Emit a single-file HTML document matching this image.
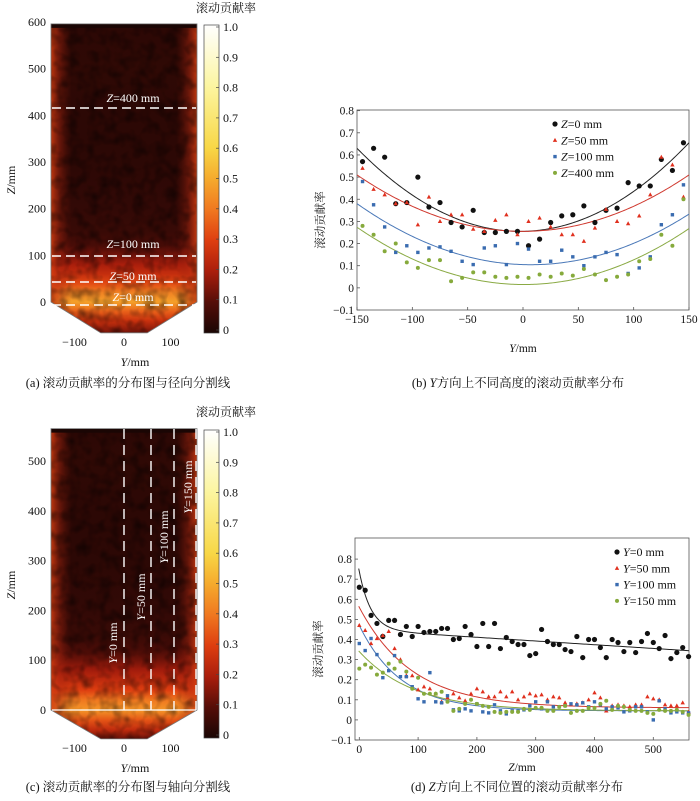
<!DOCTYPE html>
<html><head><meta charset="utf-8"><style>
html,body{margin:0;padding:0;background:#fff;}
svg text{font-family:"Liberation Serif","Noto Serif CJK SC",serif;fill:#111;}
</style></head><body>
<svg id="fig" width="700" height="796" viewBox="0 0 700 796" xmlns="http://www.w3.org/2000/svg">
<defs>
<filter id="noise" x="0" y="0" width="100%" height="100%">
<feTurbulence type="fractalNoise" baseFrequency="0.09" numOctaves="2" seed="3"/>
<feColorMatrix type="matrix" values="0 0 0 0 0  0 0 0 0 0  0 0 0 0 0  2.2 0 0 0 -0.9"/>
</filter>
<linearGradient id="edgeGrad" x1="0" x2="1" y1="0" y2="0">
<stop offset="0" stop-color="#d84010" stop-opacity="0.85"/>
<stop offset="0.06" stop-color="#b02810" stop-opacity="0.45"/>
<stop offset="0.14" stop-color="#801808" stop-opacity="0"/>
<stop offset="0.86" stop-color="#801808" stop-opacity="0"/>
<stop offset="0.94" stop-color="#b02810" stop-opacity="0.45"/>
<stop offset="1" stop-color="#d84010" stop-opacity="0.85"/>
</linearGradient>
</defs>
<g id="layer"></g>
</svg>
<script>
// ---------- data ----------
const cbTicks = [0,0.1,0.2,0.3,0.4,0.5,0.6,0.7,0.8,0.9,1.0];
const heatZA = [596,500,400,300,200,150,120,100,80,60,40,20,0,-20,-40,-66];
const heatVA = [0.03,0.035,0.03,0.03,0.04,0.05,0.08,0.14,0.2,0.25,0.32,0.42,0.48,0.36,0.26,0.14];
const heatZC = [565,500,400,300,200,150,120,100,80,60,40,20,0,-20,-40,-58];
const heatVC = [0.03,0.035,0.03,0.03,0.04,0.05,0.08,0.13,0.19,0.24,0.3,0.4,0.46,0.34,0.24,0.12];

const bY = [-145,-135,-125,-115,-105,-95,-85,-75,-65,-55,-45,-35,-25,-15,-5,5,15,25,35,45,55,65,75,85,95,105,115,125,135,145];
const bZ0 = [0.57,0.63,0.59,0.38,0.385,0.50,0.365,0.385,0.295,0.275,0.35,0.25,0.25,0.255,0.255,0.19,0.22,0.295,0.325,0.33,0.37,0.295,0.35,0.36,0.475,0.46,0.46,0.58,0.53,0.655];
const bZ50 = [0.54,0.445,0.42,0.38,0.385,0.285,0.41,0.30,0.33,0.33,0.265,0.255,0.305,0.33,0.24,0.30,0.315,0.275,0.24,0.24,0.21,0.27,0.355,0.30,0.29,0.325,0.42,0.59,0.555,0.41];
const bZ100 = [0.48,0.375,0.275,0.16,0.19,0.16,0.18,0.185,0.165,0.12,0.105,0.18,0.19,0.105,0.20,0.175,0.12,0.12,0.17,0.14,0.10,0.14,0.16,0.15,0.065,0.09,0.14,0.285,0.33,0.465];
const bZ400 = [0.28,0.24,0.165,0.20,0.115,0.09,0.125,0.125,0.03,0.045,0.07,0.07,0.05,0.045,0.05,0.045,0.06,0.05,0.065,0.055,0.085,0.06,0.035,0.05,0.06,0.12,0.13,0.24,0.19,0.40];
const bFit0 = [1.722e-5, 0.0000833, 0.255];
const bFit50 = [1.133e-5, 0, 0.255];
const bFit100 = [1.118e-5, -0.000157, 0.105];
const bFit400 = [1.136e-5, -0.00002, 0.015];
const bXTicks = [-150,-100,-50,0,50,100,150];
const bYTicks = [-0.1,0,0.1,0.2,0.3,0.4,0.5,0.6,0.7,0.8];

const dZ = [0,10,20,30,40,50,60,70,80,90,100,110,120,130,140,150,160,170,180,190,200,210,220,230,240,250,260,270,280,290,300,310,320,330,340,350,360,370,380,390,400,410,420,430,440,450,460,470,480,490,500,510,520,530,540,550,560];
const dY0 = [0.66,0.645,0.52,0.48,0.415,0.495,0.495,0.425,0.465,0.415,0.465,0.435,0.44,0.44,0.455,0.455,0.40,0.405,0.465,0.425,0.365,0.48,0.365,0.48,0.355,0.41,0.39,0.375,0.375,0.32,0.33,0.45,0.39,0.375,0.375,0.35,0.34,0.415,0.31,0.40,0.40,0.36,0.31,0.40,0.385,0.34,0.385,0.335,0.39,0.43,0.385,0.355,0.42,0.305,0.335,0.36,0.315];
const dY50 = [0.47,0.445,0.38,0.405,0.42,0.44,0.355,0.30,0.22,0.22,0.15,0.165,0.155,0.13,0.09,0.11,0.13,0.11,0.095,0.13,0.155,0.14,0.115,0.115,0.14,0.115,0.14,0.10,0.115,0.13,0.12,0.125,0.10,0.115,0.11,0.085,0.075,0.08,0.085,0.10,0.135,0.11,0.045,0.07,0.075,0.07,0.065,0.075,0.075,0.115,0.105,0.10,0.075,0.07,0.07,0.085,0.04];
const dY100 = [0.38,0.345,0.405,0.325,0.21,0.245,0.32,0.215,0.215,0.165,0.105,0.09,0.235,0.09,0.085,0.12,0.05,0.045,0.055,0.045,0.08,0.04,0.035,0.075,0.045,0.03,0.045,0.045,0.05,0.07,0.09,0.055,0.09,0.065,0.065,0.07,0.08,0.075,0.085,0.065,0.09,0.075,0.055,0.065,0.06,0.04,0.045,0.065,0.065,0.04,0.0,0.095,0.055,0.035,0.04,0.035,0.035];
const dY150 = [0.255,0.275,0.26,0.225,0.235,0.28,0.255,0.29,0.24,0.155,0.21,0.13,0.13,0.13,0.14,0.09,0.045,0.055,0.08,0.10,0.08,0.07,0.065,0.04,0.035,0.04,0.04,0.04,0.055,0.05,0.06,0.06,0.045,0.045,0.065,0.07,0.035,0.045,0.045,0.06,0.06,0.08,0.095,0.05,0.07,0.065,0.05,0.045,0.045,0.035,0.03,0.05,0.045,0.045,0.05,0.04,0.025];
const dFit0 = [0.29, 20, 0.448, -0.000185];
const dFit50 = [0.50, 90, 0.06, 0];
const dFit100 = [0.425, 71, 0.045, 0];
const dFit150 = [0.295, 92, 0.045, 0];
const dXTicks = [0,100,200,300,400,500];
const dYTicks = [-0.1,0,0.1,0.2,0.3,0.4,0.5,0.6,0.7,0.8];

// ---------- helpers ----------
const NS = "http://www.w3.org/2000/svg";
const root = document.getElementById('layer');
function mk(tag, attrs, parent, txt){
  const e = document.createElementNS(NS, tag);
  for (const k in attrs) e.setAttribute(k, attrs[k]);
  if (txt !== undefined) e.textContent = txt;
  (parent || root).appendChild(e);
  return e;
}
const cmapStops = [[0,[26,6,4]],[0.1,[85,14,8]],[0.2,[170,30,12]],[0.3,[222,62,16]],[0.4,[240,120,32]],[0.5,[245,170,45]],[0.6,[248,215,70]],[0.8,[252,245,160]],[1,[255,255,255]]];
function cmap(v){
  v = Math.max(0, Math.min(1, v));
  for (let i=1;i<cmapStops.length;i++){
    if (v <= cmapStops[i][0]){
      const [v0,c0] = cmapStops[i-1], [v1,c1] = cmapStops[i];
      const t = (v-v0)/(v1-v0);
      return 'rgb(' + c0.map((c,j)=>Math.round(c+(c1[j]-c)*t)).join(',') + ')';
    }
  }
  return 'rgb(255,255,255)';
}
const defs = document.querySelector('defs');

function heatPanel(o){
  const g = mk('g', {});
  
  
  const yS = z => o.z0 + (o.zTop - o.z0) * (z / o.zMax);
  const xS = y => 124 + y * 0.465;
  const topY = yS(o.zs[0]), botY = yS(o.zs[o.zs.length-1]), zeroY = yS(0);
  const L = 51, R = 197;
  const gr = mk('linearGradient', {id: o.id+'g', x1:0, x2:0, y1:0, y2:1}, defs);
  o.zs.forEach((z,i)=>{
    mk('stop', {offset: ((yS(z)-topY)/(botY-topY)).toFixed(4), 'stop-color': cmap(o.vs[i])}, gr);
  });
  const cp = mk('clipPath', {id: o.id+'c'}, defs);
  const shape = `M${L},${topY} L${R},${topY} L${R},${zeroY} L${xS(50)},${botY} L${xS(-50)},${botY} L${L},${zeroY} Z`;
  mk('path', {d: shape}, cp);
  const hm = mk('g', {'clip-path': `url(#${o.id}c)`}, g);
  
  
  mk('rect', {x:L, y:topY, width:R-L, height:botY-topY, fill:`url(#${o.id}g)`}, hm);
  mk('rect', {x:L, y:topY, width:R-L, height:botY-topY, fill:'url(#edgeGrad)'}, hm);
  mk('rect', {x:L, y:topY, width:R-L, height:botY-topY, filter:'url(#noise)', opacity:0.45}, hm);
  mk('rect', {x:L, y:topY, width:R-L, height:4, fill:'#1a0604'}, hm);
  mk('path', {d: shape, fill:'none', stroke:'#777', 'stroke-width':0.8}, g);
  o.zTicks.forEach(z=>{
    const t = mk('text', {x:46, y:yS(z)+4, 'text-anchor':'end', 'font-size':12}, g, String(z));
    
    
  });
  [-100,0,100].forEach(y=>{
    const t = mk('text', {x:xS(y)+(y<0?-3:0), y:o.xLabY, 'text-anchor':'middle', 'font-size':12}, g, y<0?'\u2212100':String(y));
    
    
  });
  const yt = mk('text', {x:135, y:o.xLabY+20, 'text-anchor':'middle', 'font-size':12}, g);
  
  
  mk('tspan', {'font-style':'italic'}, yt, 'Y');
  mk('tspan', {}, yt, '/mm');
  const zt = mk('text', {transform:`translate(15,${o.zTitleY}) rotate(-90)`, 'text-anchor':'middle', 'font-size':12}, g);
  
  
  mk('tspan', {'font-style':'italic'}, zt, 'Z');
  mk('tspan', {}, zt, '/mm');
  const cg = mk('linearGradient', {id:o.id+'cb', x1:0, x2:0, y1:1, y2:0}, defs);
  cmapStops.forEach(s=>mk('stop', {offset:s[0], 'stop-color':cmap(s[0])}, cg));
  const cb = mk('rect', {x:204, y:o.cbTop, width:15, height:o.cbBot-o.cbTop, fill:`url(#${o.id}cb)`, stroke:'#444', 'stroke-width':0.7}, g);
  
  
  cbTicks.forEach(v=>{
    const y = o.cbBot - v*(o.cbBot - o.cbTop - 5) - 3;
    mk('line', {x1:216, x2:219, y1:y, y2:y, stroke:'#444', 'stroke-width':0.7}, g);
    const t = mk('text', {x:223, y:y+4, 'font-size':12}, g, v.toFixed(v===0?0:1));
    
    
  });
  const ct = mk('text', {x:226, y:o.cbTitleY, 'text-anchor':'middle', 'font-size':12}, g, '滚动贡献率');
  
  
  const cap = mk('text', {x:128, y:o.capY, 'text-anchor':'middle', 'font-size':12.5}, g, o.caption);
  
  
  return {g, yS, xS};
}

const pa = heatPanel({name:'panel-a', id:'pa', zs:heatZA, vs:heatVA, z0:302, zTop:22, zMax:600, zTicks:[0,100,200,300,400,500,600],
  xLabY:346, zTitleY:180, cbTop:25, cbBot:333, cbTitleY:12, capY:387, caption:'(a) 滚动贡献率的分布图与径向分割线'});
[[108,'400',98],[256,'100',244],[282,'50',276],[305,'0',297]].forEach(([y,lab,ly])=>{
  const l = mk('line', {x1:52, x2:196, y1:y, y2:y, stroke:'#fff', 'stroke-width':1.4, 'stroke-dasharray':'9,5'}, pa.g);
  
  
  const t = mk('text', {x:133, y:ly+4, 'text-anchor':'middle', 'font-size':12, style:'fill:#fff'}, pa.g);
  
  
  mk('tspan', {'font-style':'italic', style:'fill:#fff'}, t, 'Z');
  mk('tspan', {style:'fill:#fff'}, t, '='+lab+' mm');
});

const pc = heatPanel({name:'panel-c', id:'pc', zs:heatZC, vs:heatVC, z0:710, zTop:461, zMax:500, zTicks:[0,100,200,300,400,500],
  xLabY:752, zTitleY:585, cbTop:430, cbBot:738, cbTitleY:416, capY:791, caption:'(c) 滚动贡献率的分布图与轴向分割线'});
mk('line', {x1:52, x2:196, y1:710, y2:710, stroke:'#fff', 'stroke-width':1.2}, pc.g);
[[124,'0',113,643],[151,'50',141,597],[174,'100',164,537],[196,'150',188,487]].forEach(([x,lab,lx,ly])=>{
  const l = mk('line', {x1:x, x2:x, y1:429, y2:710, stroke:'#fff', 'stroke-width':1.4, 'stroke-dasharray':'10,6'}, pc.g);
  
  
  const t = mk('text', {transform:`translate(${lx+4},${ly}) rotate(-90)`, 'text-anchor':'middle', 'font-size':12, style:'fill:#fff'}, pc.g);
  
  
  mk('tspan', {'font-style':'italic', style:'fill:#fff'}, t, 'Y');
  mk('tspan', {style:'fill:#fff'}, t, '='+lab+' mm');
});

const COLORS = {k:'#111', r:'#e0301e', b:'#3a6cb0', g:'#86aa3c'};
const LINES = {k:'#222', r:'#d03a30', b:'#4a78b8', g:'#8aaa44'};
function marker(g, type, x, y, col){
  if (type==='k') return mk('circle', {cx:x, cy:y, r:2.6, fill:col}, g);
  if (type==='r') return mk('path', {d:`M${x},${y-2.4} L${x+2.2},${y+1.6} L${x-2.2},${y+1.6} Z`, fill:col}, g);
  if (type==='b') return mk('rect', {x:x-1.7, y:y-1.7, width:3.4, height:3.4, fill:col}, g);
  return mk('circle', {cx:x, cy:y, r:2, fill:col}, g);
}
function scatterPanel(o){
  const g = mk('g', {});
  
  
  const xS = v => o.px0 + (v - o.x0) * o.kx;
  const yS = v => o.py0 - v * o.ky;
  const box = mk('rect', {x:o.L, y:o.T, width:o.R-o.L, height:o.B-o.T, fill:'none', stroke:'#555', 'stroke-width':0.8}, g);
  
  
  o.xt.forEach(v=>{
    const x = xS(v);
    mk('line', {x1:x, x2:x, y1:o.B, y2:o.B-3, stroke:'#555', 'stroke-width':0.8}, g);
    const t = mk('text', {x:x, y:o.B+13, 'text-anchor':'middle', 'font-size':11.5}, g, v<0?'\u2212'+(-v):String(v));
    
    
  });
  o.yt.forEach(v=>{
    const y = yS(v);
    mk('line', {x1:o.L, x2:o.L+3, y1:y, y2:y, stroke:'#555', 'stroke-width':0.8}, g);
    const s = v<0 ? '\u2212'+(-v).toFixed(1) : (v===0?'0':v.toFixed(1));
    const t = mk('text', {x:o.L-3, y:y+4, 'text-anchor':'end', 'font-size':11.5}, g, s);
    
    
  });
  const yt = mk('text', {transform:`translate(${o.L-33},${(o.T+o.B)/2+10}) rotate(-90)`, 'text-anchor':'middle', 'font-size':11.5}, g, '滚动贡献率');
  
  
  const xt = mk('text', {x:(o.L+o.R)/2, y:o.xTitleY, 'text-anchor':'middle', 'font-size':11.5}, g);
  
  
  mk('tspan', {'font-style':'italic'}, xt, o.xVar);
  mk('tspan', {}, xt, '/mm');
  const cap = mk('text', {x:(o.L+o.R)/2 - 5, y:o.capY, 'text-anchor':'middle', 'font-size':12.5}, g);
  
  
  mk('tspan', {}, cap, o.capA);
  mk('tspan', {'font-style':'italic'}, cap, o.xVar);
  mk('tspan', {}, cap, o.capB);
  const cp = mk('clipPath', {id:o.name+'clip'}, defs);
  mk('rect', {x:o.L, y:o.T, width:o.R-o.L, height:o.B-o.T}, cp);
  o.series.forEach(s=>{
    let d = '';
    for (let v = o.xMin; v <= o.xMax + 0.01; v += (o.xMax-o.xMin)/200){
      d += (d?'L':'M') + xS(v).toFixed(2) + ',' + yS(o.fitFn(s.fit, v)).toFixed(2);
    }
    const p = mk('path', {d, fill:'none', stroke:LINES[s.t], 'stroke-width':1, 'clip-path':`url(#${o.name}clip)`}, g);
    
    
  });
  o.series.forEach(s=>{
    const sg = mk('g', {}, g);
    
    
    s.v.forEach((v,i)=>{
      const m = marker(sg, s.t, xS(o.xs[i]), yS(v), COLORS[s.t]);
      
      
    });
  });
  const lg = mk('g', {}, g);
  
  
  o.series.forEach((s,i)=>{
    const y = o.legY + i*16.3;
    const e = mk('g', {}, lg);
    
    
    marker(e, s.t, o.legX, y, COLORS[s.t]);
    const t = mk('text', {x:o.legX+6, y:y+4, 'font-size':12}, e);
    mk('tspan', {'font-style':'italic'}, t, o.legVar);
    mk('tspan', {}, t, '=' + s.lab + ' mm');
  });
}
const quad = (f, v) => f[0]*v*v + f[1]*v + f[2];
scatterPanel({name:'panel-b', L:357, R:689, T:110, B:310, px0:357, x0:-150, kx:332/300, py0:310-0.1*221.5, ky:221.5,
  xMin:-150, xMax:150, xt:bXTicks, yt:bYTicks, xs:bY, fitFn:quad, xVar:'Y', legVar:'Z', legX:555, legY:124,
  xTitleY:352, capY:387, capA:'(b) ', capB:'方向上不同高度的滚动贡献率分布',
  series:[{key:'z0',t:'k',v:bZ0,fit:bFit0,lab:'0'},{key:'z50',t:'r',v:bZ50,fit:bFit50,lab:'50'},
          {key:'z100',t:'b',v:bZ100,fit:bFit100,lab:'100'},{key:'z400',t:'g',v:bZ400,fit:bFit400,lab:'400'}]});
const decay = (f, v) => f[0]*Math.exp(-v/f[1]) + f[2] + f[3]*v;
scatterPanel({name:'panel-d', L:355, R:689, T:538, B:740, px0:359.3, x0:0, kx:0.588, py0:740-0.1*201, ky:201,
  xMin:-1, xMax:567, xt:dXTicks, yt:dYTicks, xs:dZ, fitFn:decay, xVar:'Z', legVar:'Y', legX:617, legY:552,
  xTitleY:771, capY:791, capA:'(d) ', capB:'方向上不同位置的滚动贡献率分布',
  series:[{key:'y0',t:'k',v:dY0,fit:dFit0,lab:'0'},{key:'y50',t:'r',v:dY50,fit:dFit50,lab:'50'},
          {key:'y100',t:'b',v:dY100,fit:dFit100,lab:'100'},{key:'y150',t:'g',v:dY150,fit:dFit150,lab:'150'}]});
</script>
</body></html>
